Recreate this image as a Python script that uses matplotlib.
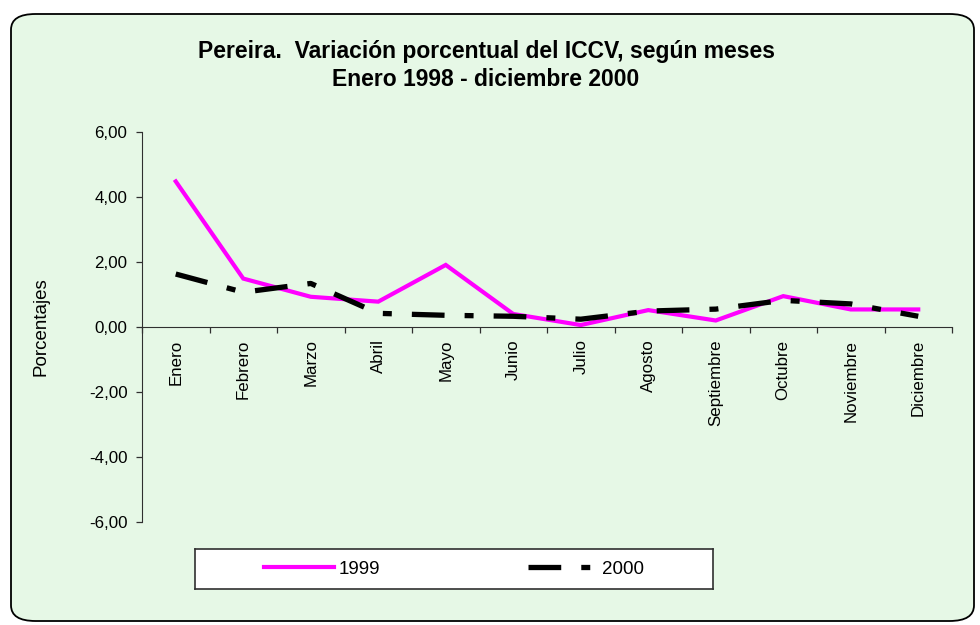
import matplotlib.pyplot as plt
from matplotlib.patches import FancyBboxPatch

plt.rcParams['font.family'] = ['Liberation Sans', 'DejaVu Sans']

# Datos
meses = ['Enero', 'Febrero', 'Marzo', 'Abril', 'Mayo', 'Junio', 'Julio',
         'Agosto', 'Septiembre', 'Octubre', 'Noviembre', 'Diciembre']
var_1999 = [4.48, 1.49, 0.93, 0.78, 1.91, 0.40, 0.06, 0.52, 0.20, 0.95, 0.54, 0.54]
var_2000 = [1.63, 1.07, 1.34, 0.42, 0.36, 0.33, 0.24, 0.49, 0.55, 0.82, 0.71, 0.33]
yticks = [-6, -4, -2, 0, 2, 4, 6]

bg = '#e6f8e6'
fig = plt.figure(figsize=(9.8, 6.25), dpi=100)
fig.patch.set_facecolor('white')

# marco redondeado
marco = FancyBboxPatch((11 / 980, 4 / 625), 963 / 980, 607 / 625,
                       boxstyle='round,pad=0,rounding_size=0.025',
                       transform=fig.transFigure, facecolor=bg,
                       edgecolor='black', linewidth=1.3, zorder=-10)
fig.add_artist(marco)

ax = fig.add_axes([142 / 980, 1 - 522 / 625, 810 / 980, 390 / 625])
ax.set_facecolor('none')
x = list(range(len(meses)))

ax.plot(x, var_1999, color='#ff00ff', linewidth=3, label='1999', solid_joinstyle='miter')
ax.plot(x, var_2000, color='black', linewidth=3.8, dashes=(6.2, 3.8, 1.7, 3.8),
        label='2000', dash_capstyle='butt')

ax.set_xlim(-0.5, len(meses) - 0.5)
ax.set_ylim(-6, 6)
ax.set_yticks(yticks)
ax.set_yticklabels([f'{v:.2f}'.replace('.', ',') for v in yticks], fontsize=12.2)
ax.tick_params(axis='y', length=4, width=0.9, color='#303030', pad=6.5)

ax.spines['top'].set_visible(False)
ax.spines['right'].set_visible(False)
ax.spines['bottom'].set_position(('data', 0))
ax.spines['left'].set_color('#303030')
ax.spines['bottom'].set_color('#303030')

ax.set_xticks(x)
ax.set_xticklabels(meses, rotation=90, fontsize=12.2, va='top')
ax.tick_params(axis='x', which='major', length=0, pad=9)
ax.set_xticks([i - 0.5 for i in range(len(meses) + 1)], minor=True)
ax.tick_params(axis='x', which='minor', length=4, width=0.9, color='#303030')

ax.set_ylabel('Porcentajes', fontsize=13.5)
ax.yaxis.set_label_coords(-0.114, 0.5)

fig.text(0.496, 0.918, 'Pereira.  Variación porcentual del ICCV, según meses',
         ha='center', va='center', fontsize=16.5, fontweight='bold')
fig.text(0.496, 0.872, 'Enero 1998 - diciembre 2000',
         ha='center', va='center', fontsize=16.5, fontweight='bold')

# leyenda
lax = fig.add_axes([195 / 980, 1 - 589 / 625, 518 / 980, 40 / 625])
lax.set_facecolor('white')
lax.set_xticks([])
lax.set_yticks([])
for s in lax.spines.values():
    s.set_linewidth(1.2)
    s.set_color('#303030')
handles, labels = ax.get_legend_handles_labels()
lax.legend(handles, labels, ncol=2, loc='center', frameon=False, fontsize=13.5,
           handlelength=3.7, handletextpad=0.25, columnspacing=7.9)

fig.savefig('out.png', dpi=100, facecolor='white')
